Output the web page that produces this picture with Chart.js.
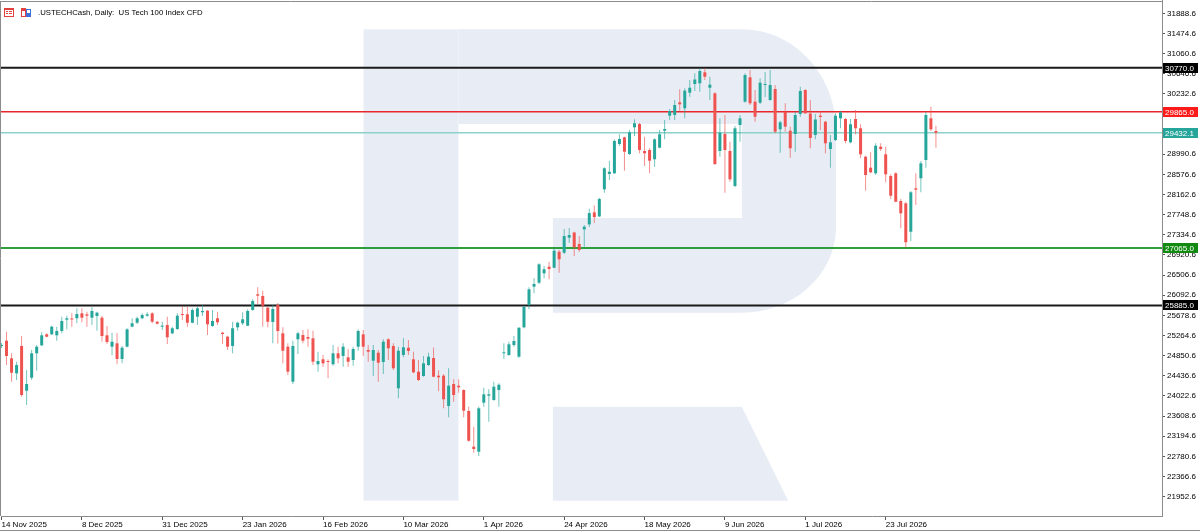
<!DOCTYPE html>
<html><head><meta charset="utf-8">
<script src="https://cdn.jsdelivr.net/npm/chart.js@4.4.1/dist/chart.umd.min.js"></script>
<style>html,body{margin:0;padding:0;background:#fff;overflow:hidden}#wrap{width:1200px;height:532px;position:relative}</style>
</head><body><div id="wrap"><canvas id="c" width="1200" height="532"></canvas></div>
<script>
const chartTitle = ".USTECHCash, Daily:  US Tech 100 Index CFD";
const tickLabels = ["14 Nov 2025","8 Dec 2025","31 Dec 2025","23 Jan 2026","16 Feb 2026","10 Mar 2026","1 Apr 2026","24 Apr 2026","18 May 2026","9 Jun 2026","1 Jul 2026","23 Jul 2026"];
const tickEvery = 16;
const yTicks = [21952.6,22366.6,22780.6,23194.6,23608.6,24022.6,24436.6,24850.6,25264.6,25678.6,26092.6,26506.6,26920.6,27334.6,27748.6,28162.6,28576.6,28990.6,29404.6,29818.6,30232.6,30646.6,31060.6,31474.6,31888.6];
const levels = [30770.0, 29865.0, 29432.1, 27065.0, 25885.0];

const opens = [
25050,25159,24797,24489,25050,24131,24398,24900,25064,25290,
25290,25270,25358,25591,25611,25620,25722,25702,25632,25667,
25632,25270,25036,25105,24783,25036,25447,25529,25620,25673,
25722,25549,25447,25482,25311,25399,25702,25702,25529,25652,
25743,25776,25461,25620,25323,25241,25050,25434,25517,25467,
25790,26113,26078,25837,25543,25893,25311,25036,24316,25188,
25276,25235,25208,24674,24777,24742,24674,24900,24844,24818,
24762,25036,25290,24968,24748,24912,24721,25188,25050,24181,
24865,25015,24777,24522,24433,24659,24803,24440,24440,23817,
24269,24234,24146,23714,22980,22877,23885,24028,23940,24146,
24900,24865,25071,24830,25434,25893,26269,26351,26544,26680,
26659,26988,26968,27277,27383,27147,27448,27550,27797,27714,
28271,28585,28600,29202,29340,28997,29545,29613,29058,29079,
28888,29126,29476,29784,29798,30059,29936,30257,30435,30450,
30676,30359,30244,29058,29408,29058,28339,29593,30072,30573,
30072,30051,30415,30107,30333,29504,29866,29476,29408,29819,
30312,29829,29387,29784,29660,29099,29284,29730,29716,29237,
29716,29525,28941,28715,28600,29147,28990,28544,28600,28030,
27983,27399,28292,28497,28873,29730,29469];
const highs = [
25112,25344,24900,24727,25256,24557,24968,25071,25332,25311,
25467,25447,25652,25673,25722,25825,25825,25755,25846,25755,
25667,25461,25323,25311,25050,25414,25620,25652,25722,25743,
25743,25564,25549,25652,25447,25722,25872,25858,25825,25858,
25893,25790,25790,25755,25344,25262,25549,25549,25743,25804,
26010,26257,26187,25858,25893,25934,25434,25105,25159,25344,
25379,25393,25365,24933,24865,24777,25071,25036,25105,24982,
25036,25393,25379,25071,25071,24968,25188,25208,25105,25036,
25208,25173,24933,24762,24844,24912,25019,24550,24474,24592,
24365,24365,24160,23802,23391,23802,24193,24160,24316,24283,
25105,25138,25256,25434,25872,26257,26442,26750,26694,26783,
27058,27023,27455,27475,27399,27311,27537,27871,27940,28098,
28723,28859,29299,29402,29352,29490,29710,29640,29352,29114,
29319,29490,29695,29922,30107,30326,30347,30518,30655,30758,
30758,30585,30265,29730,29798,29249,29572,29798,30655,30723,
30312,30553,30682,30723,30415,29681,30039,29558,29866,30380,
30326,30107,29819,29880,29675,29387,29833,29880,29743,29716,
29901,29607,28962,29032,29217,29217,29147,28579,28620,28072,
28016,28236,28600,28853,29866,29969,29578];
const lows = [
25009,24659,24316,24351,24008,23837,24351,24542,25050,25229,
25276,25159,25311,25393,25447,25517,25537,25447,25482,25365,
25138,25091,24859,24680,24694,25023,25434,25502,25599,25652,
25517,25496,25379,25091,25290,25379,25585,25447,25517,25482,
25667,25276,25447,25482,25091,24968,24900,25365,25482,25461,
25776,25913,25447,25434,25105,25100,24694,24454,24269,24886,
25105,25036,24659,24522,24625,24386,24645,24694,24625,24625,
24645,24953,24844,24727,24433,24316,24474,24762,24557,23975,
24818,24865,24489,24331,24419,24639,24407,24121,23769,23584,
23905,24090,23584,23083,22857,22789,23802,23494,23926,23802,
24783,24851,25036,24810,25414,25804,26133,26324,26442,26421,
26647,26557,26941,27174,26900,26988,27091,27494,27577,27700,
28201,28462,28585,29161,28653,28977,29367,29011,28750,28600,
28736,29114,29299,29695,29695,29887,29730,30174,30292,30277,
30518,30107,28770,28941,28201,28427,28312,29249,30051,30004,
29660,30024,30168,30092,29422,29023,29455,28921,29044,29763,
29819,29114,29299,29490,29011,28715,29264,29525,29217,29217,
29402,28908,28242,28600,28565,29058,28415,28072,28004,27469,
27071,27208,27948,28209,28715,29469,29126];
const closes = [
25071,24844,24501,24659,24043,24269,24900,25036,25270,25241,
25447,25358,25564,25620,25595,25708,25632,25673,25770,25735,
25256,25132,25138,24783,25015,25393,25517,25620,25687,25702,
25549,25508,25467,25229,25414,25673,25687,25529,25790,25825,
25770,25496,25564,25537,25297,25036,25414,25529,25599,25770,
25975,26084,25878,25549,25811,25358,24953,24522,25050,25311,
25159,25200,24727,24742,24694,24721,24900,24797,25036,24727,
24988,25358,25036,24933,24968,24707,25138,25003,24592,24953,
25023,24947,24509,24351,24694,24830,24419,24407,23954,24234,
24043,24201,23720,23103,22933,23769,24057,24057,24213,24254,
24920,25085,25153,25426,25858,26215,26324,26729,26627,26633,
27009,26832,27311,27331,27079,27023,27502,27782,27700,28072,
28703,28633,29264,29305,29044,29443,29628,29079,29011,28859,
29299,29402,29510,29880,30004,30018,30298,30359,30528,30703,
30585,30421,28791,29434,29079,28476,29525,29730,30620,30039,
29763,30462,30435,30415,29455,29648,29558,29114,29798,30292,
29833,29325,29706,29757,29217,29237,29784,29854,29264,29607,
29525,28990,28565,28620,29167,29099,28579,28139,28016,27778,
27182,28209,28263,28805,29798,29504,29432.1];

// styles
const BULL = '#26a69a', BEAR = '#ef5350';
const BULL_W = 'rgba(38,166,154,0.65)', BEAR_W = 'rgba(239,83,80,0.65)';
const levelStyle = [
  {line:'#1a1a1a', w:2, box:'#000000'},
  {line:'#e8262b', w:1.5, box:'#ff1a1a'},
  {line:'#8ed1ca', w:1.5, box:'#26a69a'},
  {line:'#2e9e3a', w:2, box:'#128a12'},
  {line:'#1a1a1a', w:2, box:'#000000'}
];
const FONT = "'Liberation Sans', Arial, sans-serif";

const idx = opens.map((_, i) => i);
const bull = idx.map(i => closes[i] >= opens[i]);
const bodyData = idx.map(i => ({x: i, y: [opens[i], closes[i]]}));
const wickData = idx.map(i => ({x: i, y: [lows[i], highs[i]]}));

const deco = {
  id: 'deco',
  beforeDraw(chart) {
    const ctx = chart.ctx, a = chart.chartArea;
    ctx.save();
    ctx.fillStyle = '#fff';
    ctx.fillRect(0, 0, chart.width, chart.height);
    ctx.beginPath(); ctx.rect(a.left, a.top, a.right - a.left, a.bottom - a.top); ctx.clip();
    ctx.fillStyle = '#e8edf5';
    ctx.fillRect(363.5, 29.3, 95, 471.4);
    const k = 0.5523;
    ctx.beginPath();
    ctx.moveTo(458.5, 29.3);
    ctx.lineTo(741.8, 29.3);
    ctx.bezierCurveTo(741.8 + 94.2 * k, 29.3, 836, 130 - 100.7 * k, 836, 130);
    ctx.lineTo(836, 227);
    ctx.bezierCurveTo(836, 227 + 85.7 * k, 741.8 + 94.2 * k, 312.7, 741.8, 312.7);
    ctx.lineTo(552.9, 312.7);
    ctx.lineTo(552.9, 218);
    ctx.lineTo(741.8, 218);
    ctx.lineTo(741.8, 124);
    ctx.lineTo(458.5, 124);
    ctx.closePath();
    ctx.fill();
    ctx.beginPath();
    ctx.moveTo(552.9, 406.7); ctx.lineTo(741.8, 406.7); ctx.lineTo(788.2, 500.7); ctx.lineTo(552.9, 500.7);
    ctx.closePath(); ctx.fill();
    ctx.restore();
  },
  beforeDatasetsDraw(chart) {
    const ctx = chart.ctx, a = chart.chartArea, y = chart.scales.y;
    ctx.save();
    levels.forEach((v, i) => {
      const p = y.getPixelForValue(v);
      ctx.strokeStyle = levelStyle[i].line;
      ctx.lineWidth = levelStyle[i].w;
      ctx.beginPath(); ctx.moveTo(a.left, p); ctx.lineTo(a.right, p); ctx.stroke();
    });
    ctx.restore();
  },
  afterDraw(chart) {
    const ctx = chart.ctx, a = chart.chartArea, y = chart.scales.y;
    ctx.save();
    ctx.font = "8px " + FONT;
    ctx.textBaseline = 'middle';
    ctx.textAlign = 'left';
    levels.forEach((v, i) => {
      const p = Math.round(y.getPixelForValue(v));
      ctx.fillStyle = levelStyle[i].box;
      ctx.fillRect(a.right + 1, p - 5, 35, 10);
      ctx.fillStyle = '#ffffff';
      ctx.fillText(v.toFixed(1), a.right + 3, p + 0.5);
    });
    ctx.strokeStyle = '#8c8c8c'; ctx.lineWidth = 1;
    ctx.beginPath();
    ctx.moveTo(0, 1.5); ctx.lineTo(a.right, 1.5);
    ctx.moveTo(0.5, 1); ctx.lineTo(0.5, a.bottom);
    ctx.moveTo(a.right + 0.5, 0); ctx.lineTo(a.right + 0.5, a.top + 1);
    ctx.moveTo(0, 530.5); ctx.lineTo(chart.width, 530.5);
    ctx.stroke();
    ctx.fillStyle = '#fff'; ctx.strokeStyle = '#e0413f';
    ctx.strokeRect(4.5, 8.5, 9, 8);
    ctx.fillStyle = '#e0413f';
    ctx.fillRect(4, 8, 10, 2);
    ctx.fillRect(6, 11, 2, 1); ctx.fillRect(9, 11, 3, 1);
    ctx.fillRect(6, 13, 2, 1); ctx.fillRect(9, 13, 3, 1);
    ctx.fillStyle = '#e0413f';
    ctx.fillRect(21, 8, 5, 9);
    ctx.fillStyle = '#fff'; ctx.fillRect(22, 11, 3, 5);
    ctx.strokeStyle = '#3f6fd8'; ctx.strokeRect(26.5, 9.5, 4, 7);
    ctx.fillStyle = '#3f6fd8'; ctx.fillRect(27, 13, 3, 3);
    ctx.fillStyle = '#000';
    ctx.font = "7.8px " + FONT;
    ctx.textBaseline = 'middle';
    ctx.fillText(chartTitle, 38, 13);
    ctx.restore();
  }
};

new Chart(document.getElementById('c'), {
  type: 'bar',
  data: {
    datasets: [
      {
        data: bodyData,
        backgroundColor: c => bull[c.dataIndex] ? BULL : BEAR,
        barThickness: 3,
        minBarLength: 1,
        borderWidth: 0,
        grouped: false,
        inflateAmount: 0
      },
      {
        data: wickData,
        backgroundColor: c => bull[c.dataIndex] ? BULL_W : BEAR_W,
        barThickness: 1,
        borderWidth: 0,
        grouped: false,
        inflateAmount: 0
      }
    ]
  },
  options: {
    animation: false,
    responsive: false,
    devicePixelRatio: 1,
    layout: {padding: {top: 3, left: 1, right: 0, bottom: 0}},
    plugins: {legend: {display: false}, tooltip: {enabled: false}},
    scales: {
      x: {
        type: 'linear', min: -0.1, max: 231.0, offset: false,
        afterBuildTicks: s => { s.ticks = tickLabels.map((_, k) => ({value: k * tickEvery})); },
        afterFit: s => { s.height = 16; s.paddingLeft = 0; s.paddingRight = 0; },
        ticks: {autoSkip: false, maxRotation: 0, align: 'start', padding: 0, color: '#000',
                font: {family: FONT, size: 8}, callback: (v, i) => tickLabels[i]},
        grid: {offset: false, drawOnChartArea: false, drawTicks: true, tickLength: 4, color: '#555'},
        border: {display: true, color: '#8c8c8c', width: 1}
      },
      y: {
        position: 'right', min: 21555.9, max: 32100.3, beginAtZero: false,
        afterBuildTicks: s => { s.ticks = yTicks.map(v => ({value: v})); },
        afterFit: s => { s.width = 38; s.paddingTop = 0; s.paddingBottom = 0; },
        ticks: {autoSkip: false, padding: 2, color: '#000', font: {family: FONT, size: 8},
                callback: v => Number(v).toFixed(1)},
        grid: {drawOnChartArea: false, drawTicks: true, tickLength: 3, color: '#555'},
        border: {display: true, color: '#8c8c8c', width: 1}
      }
    }
  },
  plugins: [deco]
});
</script>
</body></html>
